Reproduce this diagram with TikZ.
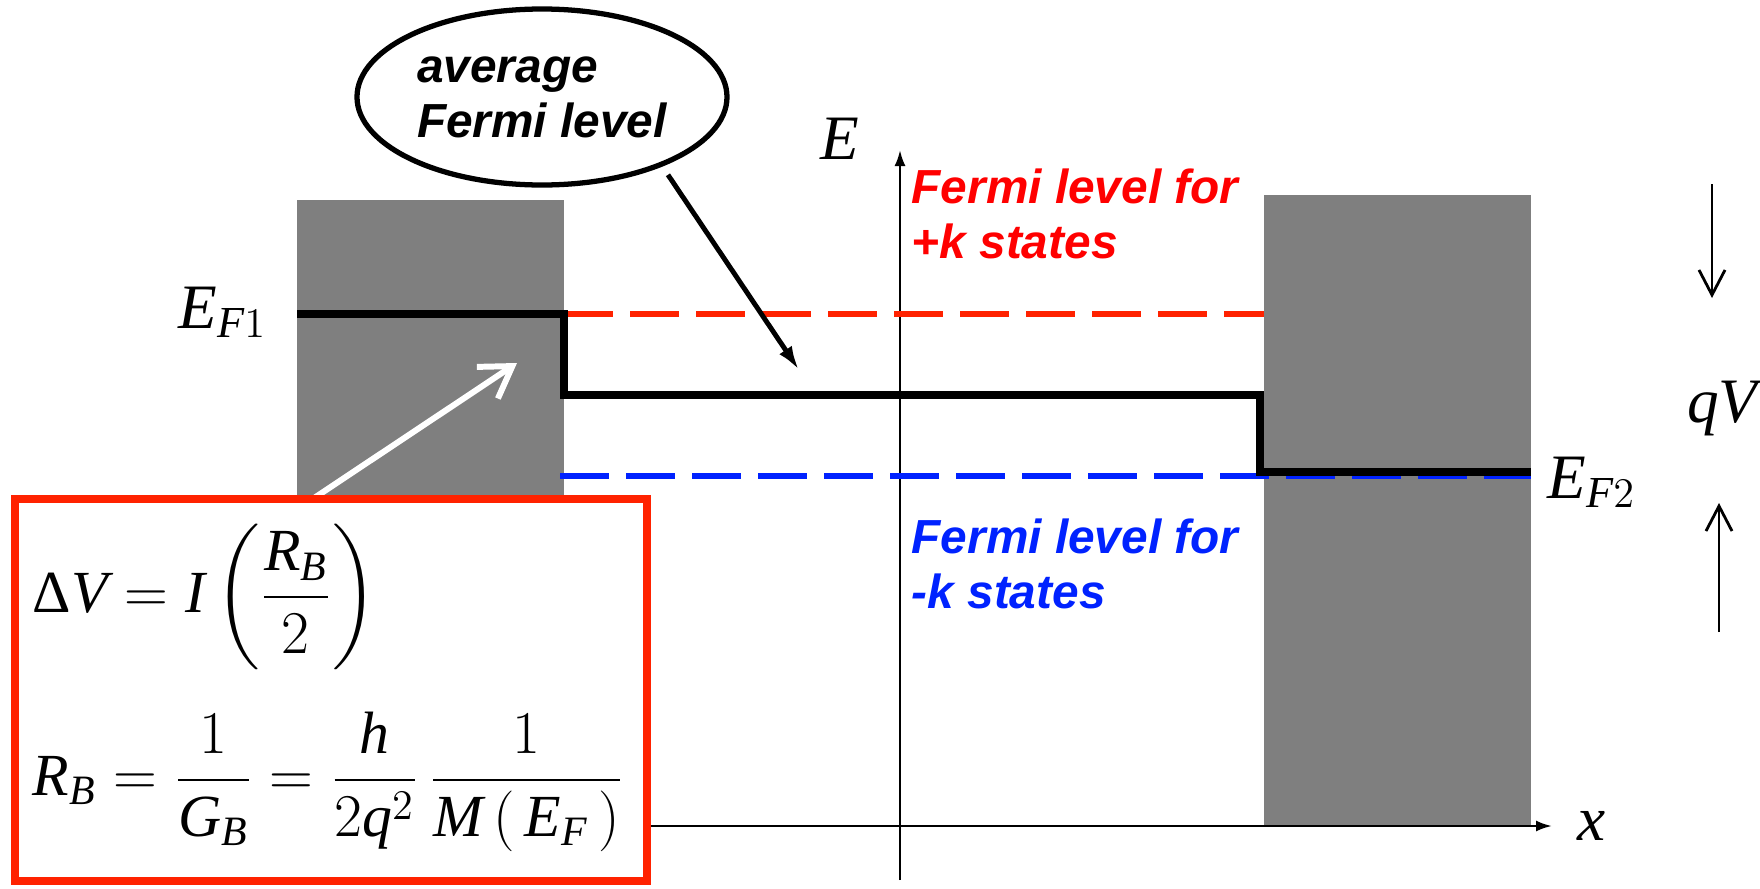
\documentclass[tikz,border=0pt]{standalone}
\usepackage{amsmath}
\usepackage{fontspec}
\setmainfont{Liberation Serif}
\newfontfamily\notefont{Liberation Sans}
\usetikzlibrary{arrows.meta,shapes.geometric,positioning}
\definecolor{metalgray}{HTML}{7F7F7F}
\definecolor{plusred}{HTML}{FF0000}
\definecolor{linered}{HTML}{FF2200}
\definecolor{minusblue}{HTML}{0022FF}
\newcommand{\vr}[1]{\mathit{#1}}

\begin{document}
\begin{tikzpicture}[
        contact/.style={fill=metalgray, draw=none},
        level/.style={line width=2.1pt, line join=miter},
        quasi/.style={line width=1.9pt, dash pattern=on 4.9mm off 1.7mm},
        note/.style={font=\notefont\bfseries\itshape\fontsize{13.6}{15.6}\selectfont,
                     align=left, inner sep=0pt},
        lbl/.style={font=\fontsize{18}{21}\selectfont, inner sep=0pt},
        axis/.style={line width=0.7pt, -{Latex[length=1.6mm,width=1.1mm]}},
        vtip/.style={line width=0.8pt, -{Straight Barb[length=2.5mm,width=2.6mm]}},
        pointer/.style={line width=1.4pt, -{Latex[length=2.4mm,width=1.5mm]}}]
    \useasboundingbox (0,0) rectangle (17.6,8.88);
    \fill[contact] (2.97,0.62) rectangle (5.64,6.88);
    \fill[contact] (12.64,0.63) rectangle (15.31,6.93);

    \coordinate (xtail) at (3.0,0.62);
    \coordinate (xtip)  at (15.52,0.62);
    \coordinate (ytail) at (9.0,0.08);
    \coordinate (ytip)  at (9.0,7.38);
    \draw[axis] (xtail) -- (xtip);
    \draw[axis] (ytail) -- (ytip);
    \node[lbl, right=0.25cm of xtip] (xlab) {$\vr{x}$};
    \node[lbl, anchor=base] (elab) at (8.40,7.29) {$\vr{E}$};

    \coordinate (f1a)  at (2.97,5.74);
    \coordinate (f1b)  at (5.64,5.74);
    \coordinate (mida) at (5.64,4.93);
    \coordinate (midb) at (12.60,4.93);
    \coordinate (f2a)  at (12.60,4.16);
    \coordinate (f2b)  at (15.31,4.16);
    \draw[quasi, linered]   (f1b) -- (12.64,5.74);
    \draw[quasi, minusblue] (5.60,4.12) -- (15.31,4.12);
    \draw[level] (f1a) -- (f1b) -- (mida) -- (midb) -- (f2a) -- (f2b);
    \node[lbl, anchor=base west] (ef1) at (1.78,5.60) {$\vr{E}_{\vr{F}1}$};
    \node[lbl, anchor=base west] (ef2) at (15.47,3.90) {$\vr{E}_{\vr{F}2}$};

    \node[note, text=plusred, anchor=north west] (plusk) at (9.11,7.20)
        {Fermi level for\\+k states};
    \node[note, text=minusblue, anchor=north west] (minusk) at (9.11,3.70)
        {Fermi level for\\-k states};

    \node[note, ellipse, draw, line width=1.5pt, minimum width=3.7cm,
          minimum height=1.76cm] (avg) at (5.42,7.91) {average\\Fermi level};
    \coordinate (avgtip) at (7.99,5.18);
    \draw[pointer, shorten <=1mm] (avg.-30) -- (avgtip);

    \coordinate (downa) at (17.12,7.04);
    \coordinate (downb) at (17.12,5.90);
    \coordinate (upa)   at (17.19,2.56);
    \coordinate (upb)   at (17.19,3.85);
    \draw[vtip] (downa) -- (downb);
    \draw[vtip] (upa) -- (upb);
    \node[lbl, anchor=base east] (qv) at (17.58,4.66) {$\vr{qV}$};

    \coordinate (wtail) at (2.45,3.44);
    \coordinate (wtip)  at (5.17,5.25);
    \draw[white, line width=1.7pt, -{Straight Barb[length=3mm,width=3.8mm]}] (wtail) -- (wtip);

    \node[draw=linered, line width=2.1pt, fill=white, minimum width=6.32cm,
          minimum height=3.82cm] (eqbox) at (3.31,1.98) {};
    \node[lbl, font=\fontsize{17}{20}\selectfont, anchor=base west] (eqdrop) at (0.32,2.76)
        {$\displaystyle \text{Δ}\vr{V} = \vr{I}\left(\frac{\vr{R}_{\vr{B}}}{2}\right)$};
    \node[lbl, font=\fontsize{17}{20}\selectfont, anchor=base west] (eqres) at (0.32,0.93)
        {$\displaystyle \vr{R}_{\vr{B}} = \frac{1}{\vr{G}_{\vr{B}}}
          = \frac{\vr{h}}{2\vr{q}^2}\,\frac{1}{\vr{M}\left(\,\vr{E}_{\vr{F}}\,\right)}$};
\end{tikzpicture}
\end{document}
